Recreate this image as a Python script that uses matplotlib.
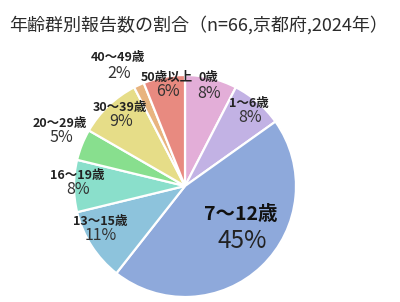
import matplotlib
matplotlib.use("Agg")
import matplotlib.pyplot as plt

plt.rcParams['font.family'] = ['Noto Sans CJK JP', 'DejaVu Sans']

# 年齢群別報告数 (n=66)
groups = ["0歳", "1〜6歳", "7〜12歳", "13〜15歳", "16〜19歳",
          "20〜29歳", "30〜39歳", "40〜49歳", "50歳以上"]
counts = [5, 5, 30, 7, 5, 3, 6, 1, 4]
pct_labels = ["8%", "8%", "45%", "11%", "8%", "5%", "9%", "2%", "6%"]
colors = ["#E3AED8", "#C2B2E4", "#8EA9DB", "#8DC3DC", "#8ADFCB",
          "#88DF8E", "#E6DD88", "#E8B47F", "#E88A80"]

# label positions in pixel coords (x, y from top)
label_pos = [(208, 78), (249, 103), (241, 214), (100, 221), (77, 175),
             (60, 123), (120, 107), (118, 58), (167, 77)]

W, H = 400, 302
fig = plt.figure(figsize=(W / 100, H / 100), dpi=100)
ax = fig.add_axes([0, 0, 1, 1])
ax.axis("off")

ax.pie(counts, colors=colors, startangle=90, counterclock=False,
       center=(185, H - 186), radius=111,
       wedgeprops=dict(edgecolor="white", linewidth=1.6))
ax.set_xlim(0, W)
ax.set_ylim(0, H)
ax.set_aspect("equal")

for i, (g, p) in enumerate(zip(groups, pct_labels)):
    x, y = label_pos[i]
    if i == 2:
        ax.text(x, H - y, g, ha="center", va="center", fontsize=14,
                fontweight="bold", color="#111111")
        ax.text(x + 1, H - y - 27, p, ha="center", va="center", fontsize=17.5,
                color="#222222")
    else:
        ax.text(x, H - y, g, ha="center", va="center", fontsize=9,
                fontweight="bold", color="#222222")
        ax.text(x + 1, H - y - 15, p, ha="center", va="center", fontsize=11.5,
                color="#333333")

ax.text(199, H - 25, "年齢群別報告数の割合（n=66,京都府,2024年）",
        ha="center", va="center", fontsize=13, color="#2b2b2b")

fig.savefig("out.png", dpi=100)
